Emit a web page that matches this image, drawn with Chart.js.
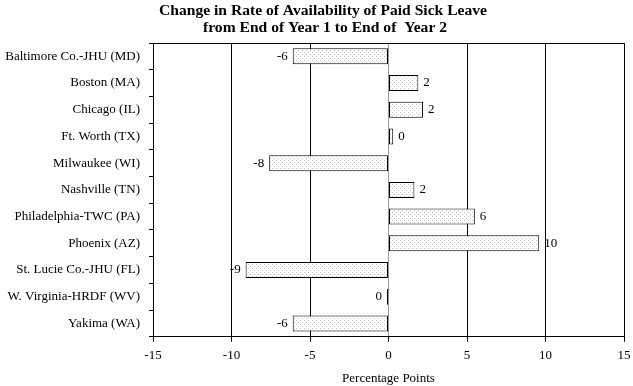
<!DOCTYPE html>
<html>
<head>
<meta charset="utf-8">
<script src="https://cdn.jsdelivr.net/npm/chart.js@4"></script>
<style>
  body { margin: 0; background: #fff; }
  #wrap { width: 633px; height: 386px; }
</style>
</head>
<body>
<div id="wrap"><canvas id="myChart"></canvas></div>
<script>
// data
let sites = ["Baltimore Co.-JHU (MD)", "Boston (MA)", "Chicago (IL)", "Ft. Worth (TX)",
  "Milwaukee (WI)", "Nashville (TN)", "Philadelphia-TWC (PA)", "Phoenix (AZ)",
  "St. Lucie Co.-JHU (FL)", "W. Virginia-HRDF (WV)", "Yakima (WA)"];
let change = [-6.1, 1.9, 2.2, 0.3, -7.6, 1.65, 5.5, 9.6, -9.1, -0.1, -6.1];
let xTicks = [-15, -10, -5, 0, 5, 10, 15];
let titleLines = ["Change in Rate of Availability of Paid Sick Leave", "from End of Year 1 to End of  Year 2"];

// dotted fill like the original
function dotPattern() {
  let c = document.createElement("canvas");
  c.width = 4; c.height = 4;
  let ctx = c.getContext("2d");
  ctx.fillStyle = "#fff";
  ctx.fillRect(0, 0, 4, 4);
  ctx.fillStyle = "#c4c4c4";
  ctx.fillRect(0, 0, 1, 1);
  ctx.fillRect(2, 2, 1, 1);
  return ctx.createPattern(c, "repeat");
}

let serif = "'Liberation Serif', 'Times New Roman', serif";

// title, value labels at the bar ends, box round the plot
let extras = {
  id: "extras",
  afterDatasetsDraw(chart) {
    let ctx = chart.ctx;
    let meta = chart.getDatasetMeta(0);
    ctx.save();
    ctx.font = "13px " + serif;
    ctx.fillStyle = "#000";
    ctx.textBaseline = "middle";
    meta.data.forEach((bar, i) => {
      let v = change[i];
      let txt = String(Math.round(v) === 0 ? 0 : Math.round(v));
      if (v < 0) {
        ctx.textAlign = "right";
        ctx.fillText(txt, bar.x - 5, bar.y);
      } else {
        ctx.textAlign = "left";
        ctx.fillText(txt, bar.x + 5, bar.y);
      }
    });
    let a = chart.chartArea;
    ctx.strokeStyle = "#000";
    ctx.lineWidth = 1;
    ctx.beginPath();
    ctx.moveTo(a.left, a.top + 0.5);
    ctx.lineTo(a.right, a.top + 0.5);
    ctx.stroke();

    ctx.font = "bold 15.6px " + serif;
    ctx.textAlign = "center";
    ctx.fillText(titleLines[0], 323, 11);
    ctx.fillText(titleLines[1], 325, 28);
    ctx.restore();
  }
};

new Chart("myChart", {
  type: "bar",
  data: {
    labels: sites,
    datasets: [{
      data: change,
      backgroundColor: dotPattern(),
      borderColor: "#000",
      borderWidth: 1,
      borderSkipped: false,
      barPercentage: 0.6,
      categoryPercentage: 1
    }]
  },
  options: {
    indexAxis: "y",
    responsive: true,
    maintainAspectRatio: false,
    animation: false,
    layout: { padding: { left: 2, right: 0, top: 43, bottom: 0 } },
    plugins: {
      legend: { display: false },
      tooltip: { enabled: false },
      title: { display: false }
    },
    scales: {
      x: {
        min: -15, max: 15,
        afterBuildTicks: (axis) => { axis.ticks = xTicks.map(v => ({ value: v })); },
        afterFit: (axis) => { axis.paddingRight = 9; axis.paddingLeft = 0; },
        ticks: { font: { family: serif, size: 13 }, color: "#000", padding: 6 },
        grid: {
          color: (c) => c.tick && c.tick.value === 0 ? "#999" : "#000",
          tickColor: "#000",
          tickLength: 5
        },
        border: { color: "#000" },
        title: {
          display: true, text: "Percentage Points",
          font: { family: serif, size: 13 }, color: "#000", padding: { top: 1, bottom: 0 }
        }
      },
      y: {
        afterFit: (axis) => { axis.width = 151; },
        ticks: { font: { family: serif, size: 13 }, color: "#000", padding: 9 },
        grid: { offset: true, drawOnChartArea: false, tickColor: "#000", tickLength: 4 },
        border: { color: "#000" }
      }
    }
  },
  plugins: [extras]
});
</script>
</body>
</html>
